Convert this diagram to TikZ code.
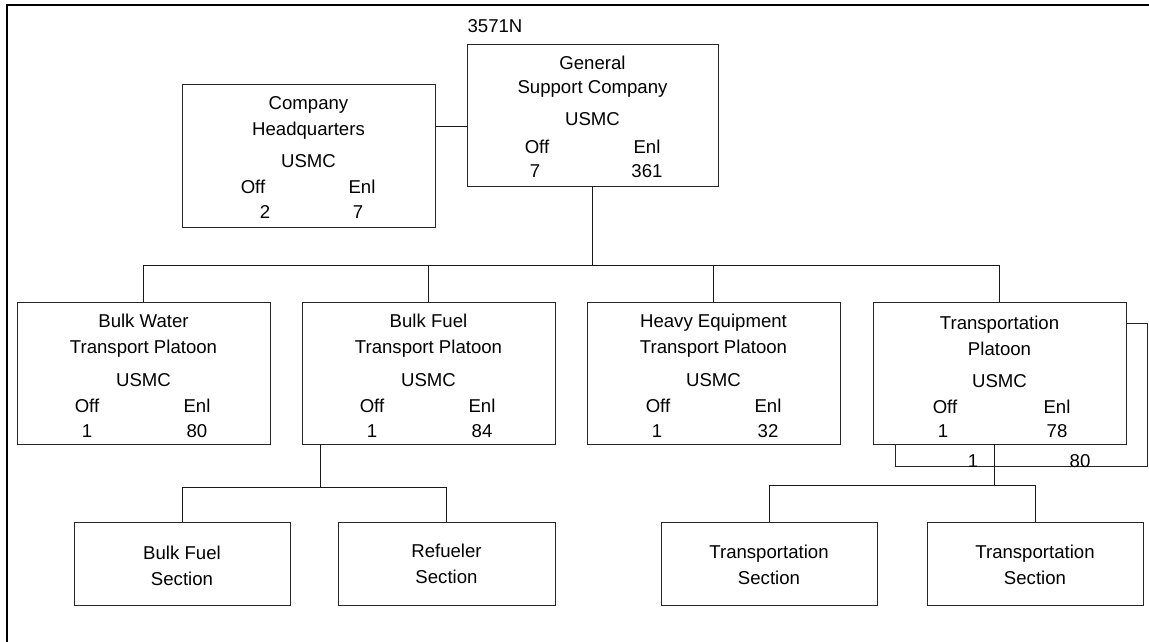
\documentclass[tikz,border=0pt]{standalone}
\usepackage{fontspec}
\setmainfont{Liberation Sans}
\usetikzlibrary{calc}
\begin{document}
\begin{tikzpicture}[x=1pt,y=-1pt,
  boxst/.style={draw=black!85, line width=1pt, fill=white, rectangle, inner sep=0pt, outer sep=0pt},
  lbl/.style={anchor=base, inner sep=0pt, font=\fontsize{18.6}{22}\selectfont},
  conn/.style={draw=black!90, line width=1pt},
  frameline/.style={draw=black, line width=2.2pt}]
\useasboundingbox (0,0) rectangle (1149,642);
\fill[white] (0,0) rectangle (1149,642);
% frame
\coordinate (ftl) at (7,5);
\coordinate (ftr) at (1149,5);
\coordinate (fbl) at (7,642);
\draw[frameline] (ftr) -- (ftl) -- (fbl);

% ---------- General Support Company ----------
\node[lbl] (code) at (495,33) {3571N};
\node[boxst, minimum width=251pt, minimum height=141pt] (GSC) at (592.5,115.5) {};
\node[lbl] (gsc1) at (592.5,70) {General};
\node[lbl] (gsc2) at (592.5,94) {Support Company};
\node[lbl] (gsc3) at (592.5,125) {USMC};
\node[lbl] (gsc4) at (537,153) {Off};
\node[lbl] (gsc5) at (647,153) {Enl};
\node[lbl] (gsc6) at (535,177) {7};
\node[lbl] (gsc7) at (647,177) {361};

% ---------- Company Headquarters ----------
\node[boxst, minimum width=253pt, minimum height=142pt] (HQ) at (308.5,156) {};
\node[lbl] (hq1) at (308.5,110) {Company};
\node[lbl] (hq2) at (308.5,135) {Headquarters};
\node[lbl] (hq3) at (308.5,167) {USMC};
\node[lbl] (hq4) at (253,193) {Off};
\node[lbl] (hq5) at (362,193) {Enl};
\node[lbl] (hq6) at (265,218) {2};
\node[lbl] (hq7) at (358,218) {7};

\coordinate (hqc) at ($(HQ.north east)+(0,41)$);
\draw[conn] (hqc) -- (GSC.west |- hqc);

% ---------- Platoons ----------
\node[boxst, minimum width=253pt, minimum height=142pt] (BW) at (143.5,373) {};
\node[lbl] (bw1) at (143.5,327) {Bulk Water};
\node[lbl] (bw2) at (143.5,353) {Transport Platoon};
\node[lbl] (bw3) at (143.5,386) {USMC};
\node[lbl] (bw4) at (87,412) {Off};
\node[lbl] (bw5) at (197,412) {Enl};
\node[lbl] (bw6) at (87,437) {1};
\node[lbl] (bw7) at (197,437) {80};

\node[boxst, minimum width=253pt, minimum height=142pt] (BF) at (428.5,373) {};
\node[lbl] (bf1) at (428.5,327) {Bulk Fuel};
\node[lbl] (bf2) at (428.5,353) {Transport Platoon};
\node[lbl] (bf3) at (428.5,386) {USMC};
\node[lbl] (bf4) at (372,412) {Off};
\node[lbl] (bf5) at (482,412) {Enl};
\node[lbl] (bf6) at (372,437) {1};
\node[lbl] (bf7) at (482,437) {84};

\node[boxst, minimum width=253pt, minimum height=142pt] (HE) at (713.5,373) {};
\node[lbl] (he1) at (713.5,327) {Heavy Equipment};
\node[lbl] (he2) at (713.5,353) {Transport Platoon};
\node[lbl] (he3) at (713.5,386) {USMC};
\node[lbl] (he4) at (658,412) {Off};
\node[lbl] (he5) at (768,412) {Enl};
\node[lbl] (he6) at (657,437) {1};
\node[lbl] (he7) at (768,437) {32};

% shadow box behind Transportation Platoon
\node[boxst, minimum width=252pt, minimum height=143pt] (TPS) at (1021,394.5) {};
\node[lbl] (tps1) at (973,467) {1};
\node[lbl] (tps2) at (1080,467) {80};

\node[boxst, minimum width=253pt, minimum height=142pt] (TP) at (999.5,373) {};
\node[lbl] (tp1) at (999.5,329) {Transportation};
\node[lbl] (tp2) at (999.5,355) {Platoon};
\node[lbl] (tp3) at (999.5,387) {USMC};
\node[lbl] (tp4) at (945,413) {Off};
\node[lbl] (tp5) at (1057,413) {Enl};
\node[lbl] (tp6) at (943,437) {1};
\node[lbl] (tp7) at (1057,437) {78};

% bus from GSC to platoons
\coordinate (bus) at (0,265);
\draw[conn] (GSC.south) -- (GSC.south |- bus);
\draw[conn] (BW.north) -- (BW.north |- bus) -- (TP.north |- bus) -- (TP.north);
\draw[conn] (BF.north) -- (BF.north |- bus);
\draw[conn] (HE.north) -- (HE.north |- bus);

% ---------- Sections ----------
\node[boxst, minimum width=216pt, minimum height=83pt] (BFS) at (182,563.5) {};
\node[lbl] (bfs1) at (182,559) {Bulk Fuel};
\node[lbl] (bfs2) at (182,585) {Section};

\node[boxst, minimum width=217pt, minimum height=83pt] (RS) at (446.5,563.5) {};
\node[lbl] (rs1) at (446.5,557) {Refueler};
\node[lbl] (rs2) at (446.5,583) {Section};

\node[boxst, minimum width=216pt, minimum height=83pt] (TS1) at (769,563.5) {};
\node[lbl] (ts11) at (769,558) {Transportation};
\node[lbl] (ts12) at (769,584) {Section};

\node[boxst, minimum width=216pt, minimum height=83pt] (TS2) at (1035,563.5) {};
\node[lbl] (ts21) at (1035,558) {Transportation};
\node[lbl] (ts22) at (1035,584) {Section};

% sub-buses
\coordinate (bfd) at ($(BF.south west)+(18,0)$);
\coordinate (lbus) at (0,487);
\draw[conn] (bfd) -- (bfd |- lbus);
\draw[conn] (BFS.north) -- (BFS.north |- lbus) -- (RS.north |- lbus) -- (RS.north);

\coordinate (tpd) at ($(TP.south)+(-5.5,0)$);
\coordinate (rbus) at (0,485);
\draw[conn] (tpd) -- (tpd |- rbus);
\draw[conn] (TS1.north) -- (TS1.north |- rbus) -- (TS2.north |- rbus) -- (TS2.north);
\end{tikzpicture}
\end{document}
